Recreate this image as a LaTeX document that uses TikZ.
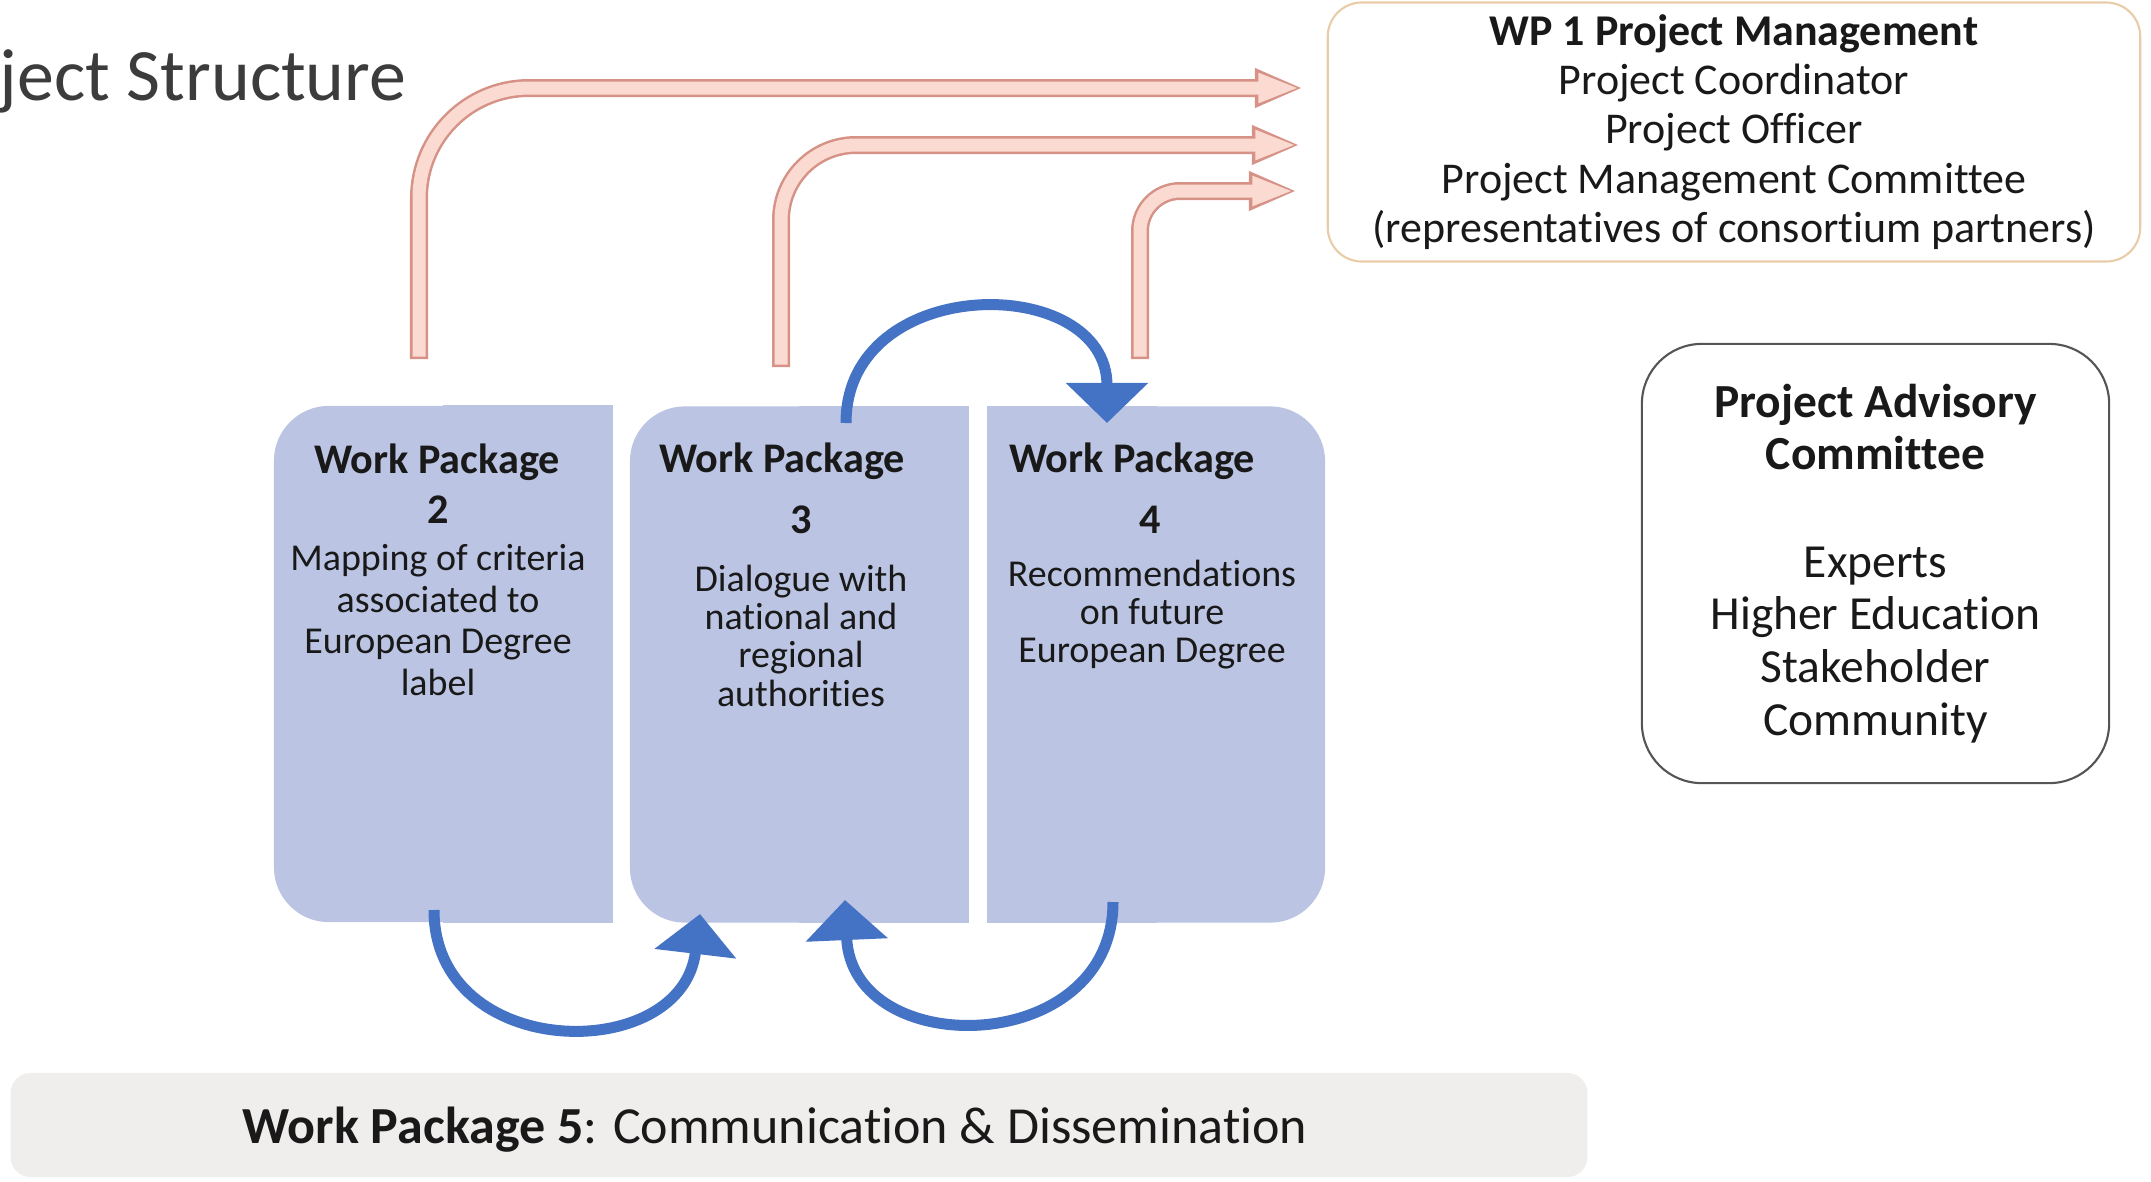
\documentclass[tikz,border=0pt]{standalone}
\usepackage{fontspec}
\setmainfont[Ligatures=NoCommon]{Carlito}
\usetikzlibrary{arrows.meta}

\definecolor{wpblue}{RGB}{187,197,227}
\definecolor{arcblue}{RGB}{68,114,196}
\definecolor{pinkfill}{RGB}{251,219,209}
\definecolor{pinkline}{RGB}{214,146,134}
\definecolor{wponeline}{RGB}{232,204,168}
\definecolor{pacgray}{RGB}{85,85,85}
\definecolor{wpfivegray}{RGB}{240,237,237}
\definecolor{titlegray}{RGB}{60,60,60}
\definecolor{inkblack}{RGB}{25,25,25}

\tikzset{
  wpbox/.style={fill=wpblue, rounded corners=0.55cm, minimum width=3.38cm, minimum height=5.16cm, inner sep=0pt},
  wphead/.style={font=\fontsize{12pt}{14pt}\selectfont\bfseries, text=inkblack, inner sep=0pt},
  wpdesc/.style={font=\fontsize{10.8pt}{#1}\selectfont, text=inkblack, align=center, inner sep=0pt},
  wpdesc/.default=11.9pt,
  pinkout/.style={draw=pinkline, line width=0.18cm, -{Triangle[length=0.48cm,width=0.36cm]}},
  pinkin/.style={draw=pinkfill, line width=0.13cm, shorten <=0.025cm, shorten >=0.035cm, -{Triangle[length=0.41cm,width=0.27cm]}},
  bluearc/.style={draw=arcblue, line width=0.11cm, -{Triangle[length=0.4cm,width=0.8cm]}}
}

\begin{document}
\begin{tikzpicture}[x=0.01cm, y=-0.01cm]
  \useasboundingbox (0,0) rectangle (2151,1181);

  % Title
  \node[anchor=base east, inner sep=0pt, text=titlegray, font=\fontsize{21pt}{25pt}\selectfont] (title) at (407,100) {ject Structure};

  % WP 1 and advisory committee
  \node[draw=wponeline, line width=0.6pt, rounded corners=0.34cm, minimum width=8.12cm, minimum height=2.43cm,
    align=center, text=inkblack, font=\fontsize{12.5pt}{14.05pt}\selectfont] (wp1) at (1734,132)
    {\textbf{WP 1 Project Management}\\Project Coordinator\\Project Officer\\Project Management Committee\\(representatives of consortium partners)};
  \node[draw=pacgray, line width=0.6pt, rounded corners=0.6cm, minimum width=4.67cm, minimum height=4.39cm,
    align=center, text=inkblack, font=\fontsize{13.5pt}{15pt}\selectfont] (pac) at (1875.5,563.5)
    {\textbf{Project Advisory}\\\textbf{Committee}\\[15.5pt]Experts\\Higher Education\\Stakeholder\\Community};

  % Pink arrows to WP 1
  \coordinate (p2) at (419,359);
  \coordinate (t2) at (1303,88);
  \coordinate (p3) at (781,367);
  \coordinate (t3) at (1300,145);
  \coordinate (p4) at (1140,359);
  \coordinate (t4) at (1297,191);
  \draw[pinkout, rounded corners=1.1cm] (p2) |- (t2);
  \draw[pinkin, rounded corners=1.1cm] (p2) |- (t2);
  \draw[pinkout, rounded corners=0.75cm] (p3) |- (t3);
  \draw[pinkin, rounded corners=0.75cm] (p3) |- (t3);
  \draw[pinkout, rounded corners=0.4cm] (p4) |- (t4);
  \draw[pinkin, rounded corners=0.4cm] (p4) |- (t4);

  % Work packages
  \node[wpbox] (wp2) at (443,664) {};
  \fill[wpblue] (wp2.north) rectangle (wp2.south east);
  \node[wpbox] (wp3) at (799,664.5) {};
  \fill[wpblue] (wp3.north) rectangle (wp3.south east);
  \node[wpbox, minimum width=3.37cm] (wp4) at (1156.5,664.5) {};
  \fill[wpblue] (wp4.north west) rectangle (wp4.south);

  \node[wphead] (wp2h) at (437,462) {Work Package};
  \node[wphead] (wp2n) at (438,510) {2};
  \node[wpdesc] (wp2d) at (438,620) {Mapping of criteria\\associated to\\European Degree\\label};
  \node[wphead] (wp3h) at (782,461) {Work Package};
  \node[wphead] (wp3n) at (801,520) {3};
  \node[wpdesc=10.9pt] (wp3d) at (801,635.5) {Dialogue with\\national and\\regional\\authorities};
  \node[wphead] (wp4h) at (1132,461) {Work Package};
  \node[wphead] (wp4n) at (1150,520) {4};
  \node[wpdesc=10.9pt] (wp4d) at (1152,614.5) {Recommendations\\on future\\European Degree};

  % Blue loops
  \coordinate (s3) at (846,423);
  \coordinate (e4) at (1107,423);
  \coordinate (s2) at (434,910);
  \coordinate (e3) at (700,914);
  \coordinate (s4) at (1113,902);
  \coordinate (e3b) at (845,900);
  \draw[bluearc] (s3) .. controls (846,272) and (1107,272) .. (e4);
  \draw[bluearc] (s2) .. controls (434,1062) and (682,1066) .. (e3);
  \draw[bluearc] (s4) .. controls (1113,1058) and (852,1062) .. (e3b);

  % WP 5
  \node[fill=wpfivegray, rounded corners=0.2cm, minimum width=15.76cm, minimum height=1.04cm, inner sep=0pt] (wp5) at (799,1125) {};
  \node[font=\fontsize{14.8pt}{17pt}\selectfont, text=inkblack, inner sep=0pt] (wp5t) at (775,1130)
    {\textbf{Work Package 5}: Communication \& Dissemination};
\end{tikzpicture}
\end{document}
